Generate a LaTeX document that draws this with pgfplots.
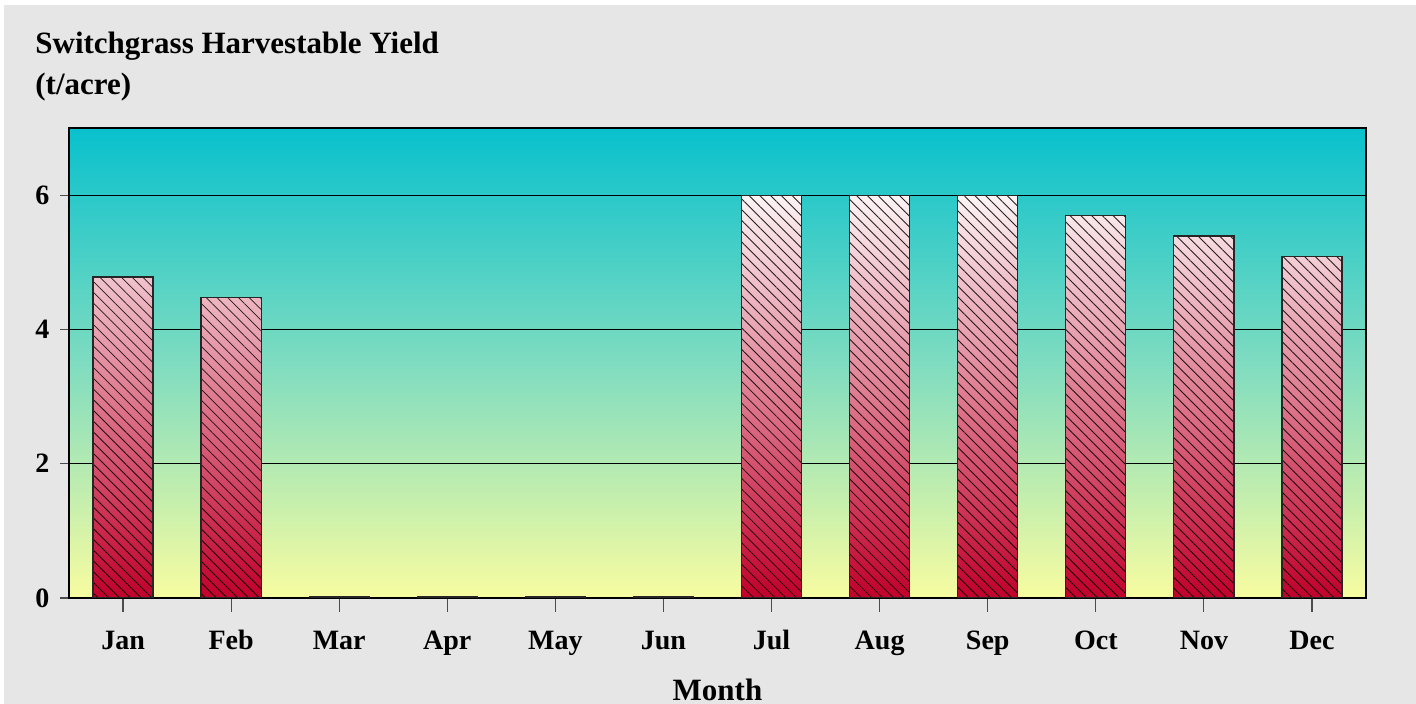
\documentclass[border=0pt]{standalone}
\usepackage{pgfplots}
\pgfplotsset{compat=1.18}
\usepackage{fontspec}
\setmainfont{Liberation Serif}
\usetikzlibrary{patterns.meta}
\definecolor{bggray}{HTML}{E6E6E6}
\definecolor{topc}{HTML}{08C1CD}
\definecolor{midc}{HTML}{7FDCC0}
\definecolor{botc}{HTML}{F8FCA0}
\definecolor{bartop}{HTML}{FDF4F5}
\definecolor{barbot}{HTML}{C0002A}
\pgfplotstableread{
x y
0 4.78
1 4.48
2 0.02
3 0.02
4 0.02
5 0.02
6 6.0
7 6.0
8 6.0
9 5.70
10 5.39
11 5.09
}\yielddata
\begin{document}
\begin{tikzpicture}
% px -> 0.5pt, origin at axis bottom-left (px 69,598)
\fill[white] (-34.5pt,-53pt) rectangle (673.5pt,299pt);
\fill[bggray] (-32.5pt,-53pt) rectangle (673.5pt,296.5pt);
\node[anchor=north west, align=left, font=\bfseries\fontsize{15.5}{20.5}\selectfont, inner sep=0pt] at (-17pt,283pt) {Switchgrass Harvestable Yield\\(t/acre)};
\begin{axis}[
  at={(0,0)}, anchor=south west,
  scale only axis,
  width=648.5pt, height=235pt,
  xmin=-0.5, xmax=11.5,
  ymin=0, ymax=7,
  xtick={0,...,11},
  xticklabels={Jan,Feb,Mar,Apr,May,Jun,Jul,Aug,Sep,Oct,Nov,Dec},
  ytick={0,2,4,6},
  tick align=outside,
  x tick style={black!70, line width=0.6pt, /pgfplots/major tick length=7pt},
  y tick style={black!70, line width=0.6pt, /pgfplots/major tick length=4.5pt},
  xtick pos=bottom, ytick pos=left,
  ymajorgrids,
  grid style={black, line width=0.5pt},
  axis line style={black, line width=0.9pt},
  axis background/.style={top color=topc, bottom color=botc, middle color=midc},
  /pgf/number format/assume math mode=true,
  tick label style={font=\bfseries\fontsize{14}{16}\selectfont},
  xticklabel style={yshift=-11pt, text height=1.5ex, text depth=0.3ex},
  yticklabel style={xshift=-2pt},
  xlabel={Month},
  xlabel style={font=\bfseries\fontsize{15.5}{17}\selectfont, yshift=-6.5pt},
]
\addplot[ybar, bar width=0.556, draw=black!85, line width=0.6pt,
  top color=bartop, bottom color=barbot,
  postaction={fill opacity=0.14, pattern={Lines[angle=-45, distance=3.8pt, line width=0.4pt]}, pattern color=black}]
  table[x=x,y=y]{\yielddata};
\end{axis}
\pgfresetboundingbox
\path (-34.5pt,-53pt) rectangle (673.5pt,299pt);
\end{tikzpicture}
\end{document}
